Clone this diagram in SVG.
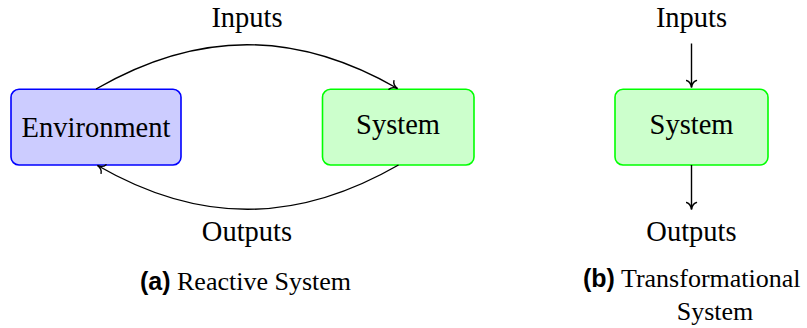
<svg xmlns="http://www.w3.org/2000/svg" width="807" height="328" viewBox="0 0 807 328">
<style>
.t{font-size:28.5px;fill:#000;text-anchor:middle}
.c{font-size:26px;fill:#000}
.b{font-size:25px;font-weight:bold;fill:#000}
.env{fill:#ccccff;stroke:#0000ff;stroke-width:1.6}
.sys{fill:#ccffcc;stroke:#00ff00;stroke-width:1.6}
.e{fill:none;stroke:#000;stroke-width:1.4;marker-end:url(#to)}
</style>
<defs>
<marker id="to" viewBox="-8 -6 10 12" markerWidth="10" markerHeight="12" refX="0.5" refY="0" orient="auto" markerUnits="userSpaceOnUse">
<path d="M-6.5,-5 C-5.6,-1.9 -1.9,-0.35 0.5,0 C-1.9,0.35 -5.6,1.9 -6.5,5" fill="none" stroke="#000" stroke-width="1.4" stroke-linecap="round"/>
</marker>
</defs>
<g id="env-a">
<rect class="env" x="11" y="89.3" width="170" height="75.7" rx="8"/>
<text class="t" x="96" y="137" font-family="'Liberation Serif', serif">Environment</text>
</g>
<g id="sys-a">
<rect class="sys" x="322.5" y="89.3" width="151.5" height="75.7" rx="8"/>
<text class="t" x="398" y="133.5" font-family="'Liberation Serif', serif">System</text>
</g>
<g id="sys-b">
<rect class="sys" x="615" y="89.3" width="153" height="75.7" rx="8"/>
<text class="t" x="691.5" y="133.5" font-family="'Liberation Serif', serif">System</text>
</g>
<g id="labels" font-family="'Liberation Serif', serif">
<text class="t" x="247" y="27">Inputs</text>
<text class="t" x="247" y="241">Outputs</text>
<text class="t" x="691.5" y="26.5">Inputs</text>
<text class="t" x="691.5" y="240.5">Outputs</text>
<text x="245.5" y="289.5" text-anchor="middle"><tspan class="b" font-family="'Liberation Sans', sans-serif">(a)</tspan><tspan class="c"> Reactive System</tspan></text>
<text x="583" y="287"><tspan class="b" font-family="'Liberation Sans', sans-serif">(b)</tspan><tspan class="c"> Transformational</tspan></text>
<text class="c" x="715" y="320" text-anchor="middle">System</text>
</g>
<g id="connectors">
<path class="e" d="M96,89 C198,30 296,30 397.5,88.5"/>
<path class="e" d="M398.5,165 C296,224 199,224 97.5,165.5"/>
<path class="e" d="M691.5,43.5 L691.5,87.5"/>
<path class="e" d="M691.5,165 L691.5,209.5"/>
</g>
</svg>
